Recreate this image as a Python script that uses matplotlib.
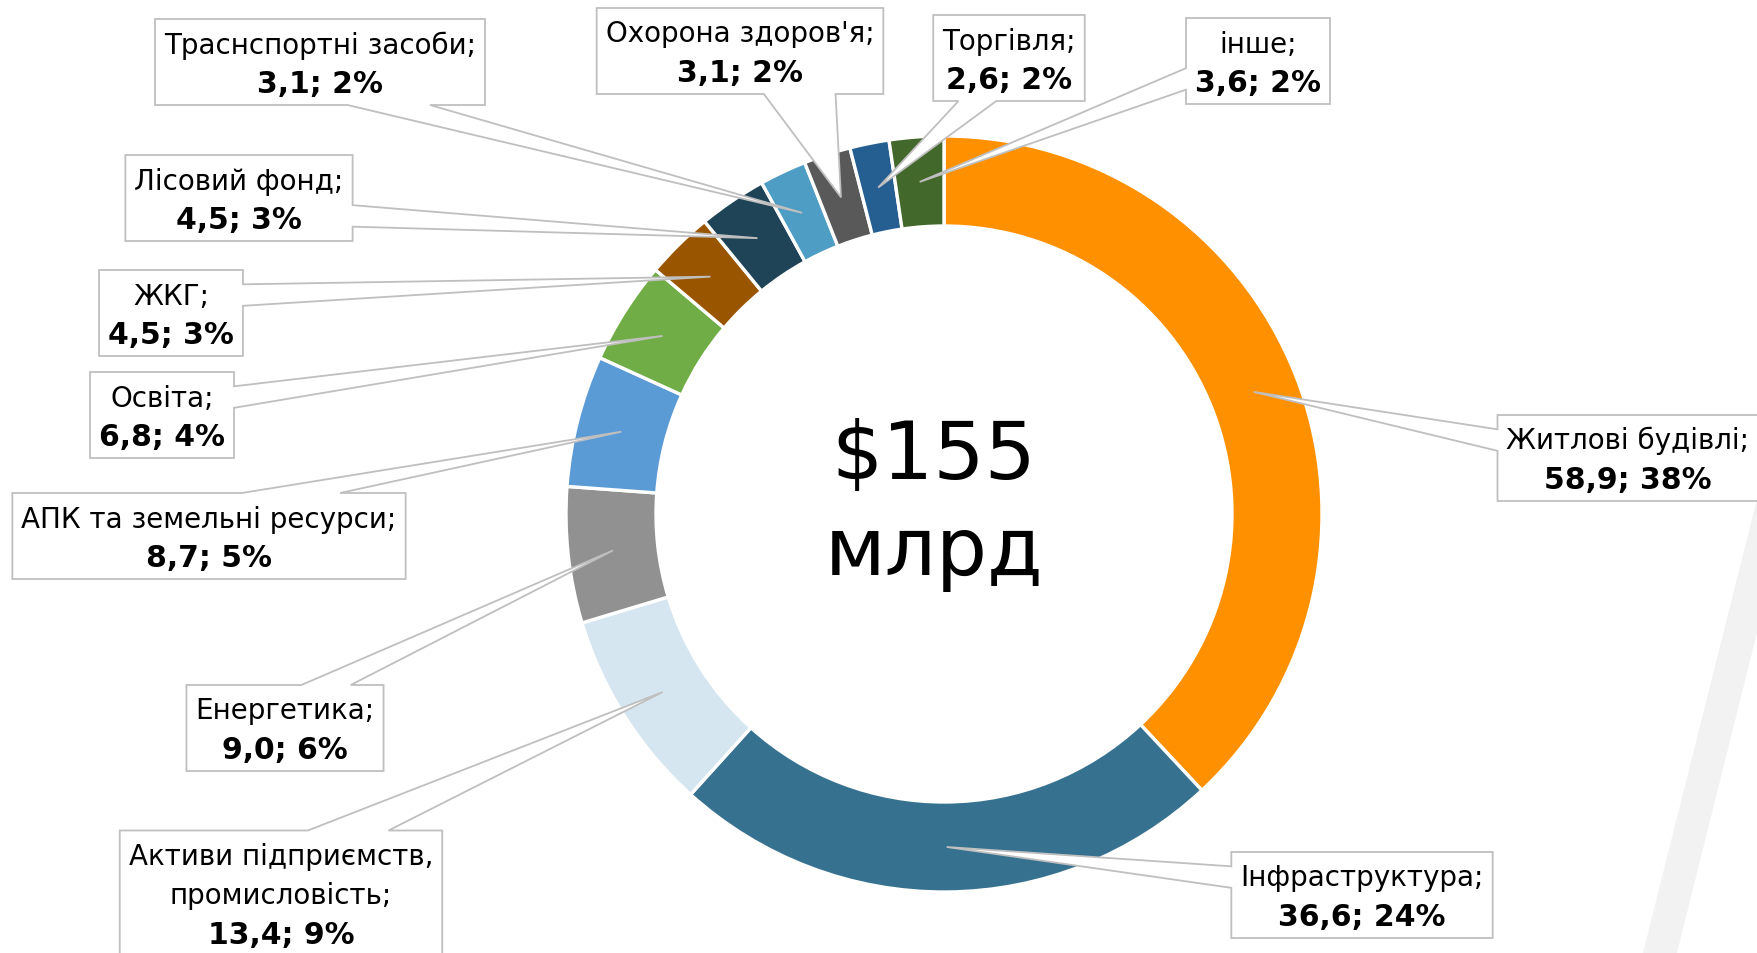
import numpy as np
import matplotlib.pyplot as plt
from matplotlib.patches import Polygon

# damage by sector, $ bn (clockwise from 12 o'clock)
sectors = ["Житлові будівлі", "Інфраструктура", "Активи підприємств,\nпромисловість",
           "Енергетика", "АПК та земельні ресурси", "Освіта", "ЖКГ", "Лісовий фонд",
           "Траснспортні засоби", "Охорона здоров'я", "Торгівля", "інше"]
values = [58.9, 36.6, 13.4, 9.0, 8.7, 6.8, 4.5, 4.5, 3.1, 3.1, 2.6, 3.6]
shares = [38, 24, 9, 6, 5, 4, 3, 3, 2, 2, 2, 2]

colors = ["#ff9100", "#36718f", "#d6e6f0", "#919191", "#5b9bd5", "#70ad47",
          "#995500", "#204457", "#4e9dc4", "#595959", "#255e91", "#43682b"]

# label box centres in pixels (x right, y down)
box_centers = [(1628, 459), (1362, 896), (281, 894), (285, 729), (209, 537),
               (162, 416), (171, 314), (239, 199), (320, 63), (740, 52),
               (1009, 59), (1258, 62)]

W, H = 1757, 954
CX, CY = 944, 515
R_OUT, R_IN = 378, 288
FS, FS_BOLD = 20, 21.5
LINE = 39
EDGE = "#bfbfbf"

fig = plt.figure(figsize=(W / 100, H / 100), dpi=100)
ax = fig.add_axes([0, 0, 1, 1])

ax.pie(values, colors=colors, startangle=90, counterclock=False,
       center=(CX, H - CY), radius=R_OUT,
       wedgeprops=dict(width=R_OUT - R_IN, edgecolor="white", linewidth=2.4))
ax.set_xlim(0, W)
ax.set_ylim(0, H)
ax.set_aspect("equal")
ax.axis("off")

# light diagonal stripe in the lower right corner
ax.add_patch(Polygon([(1643, 0), (1757, H - 500), (1757, H - 634), (1677, 0)],
                     closed=True, facecolor="#f2f2f2", edgecolor="none", zorder=0))

ax.text(934, H - 479, "$155", fontsize=58, ha="center", va="baseline", zorder=5)
ax.text(934, H - 575, "млрд", fontsize=58, ha="center", va="baseline", zorder=5)

fig.canvas.draw()
renderer = fig.canvas.get_renderer()

total = sum(values)
cum = np.cumsum([0] + values[:-1])
r_mid = (R_OUT + R_IN) / 2

for name, v, pct, c0, (bx, by) in zip(sectors, values, shares, cum, box_centers):
    lines = [(ln, "normal", FS) for ln in (name + ";").split("\n")]
    lines.append((f"{v:.1f}; {pct}%".replace(".", ","), "bold", FS_BOLD))
    n = len(lines)
    widths = []
    for i, (txt, weight, size) in enumerate(lines):
        yc = by + (i - (n - 1) / 2) * LINE
        t = ax.text(bx, H - yc - 0.36 * size * 100 / 72, txt, fontsize=size,
                    fontweight=weight, ha="center", va="baseline", zorder=6)
        widths.append(t.get_window_extent(renderer).width)
    bw = max(widths) + 18
    bh = n * LINE + 8
    x0, x1 = bx - bw / 2, bx + bw / 2
    y0, y1 = by - bh / 2, by + bh / 2

    # callout tip sits in the middle of the ring segment
    ang = np.deg2rad(360 * (c0 + v / 2) / total)
    tx, ty = CX + r_mid * np.sin(ang), CY - r_mid * np.cos(ang)

    dx, dy = tx - bx, ty - by
    if abs(dx) / bw > abs(dy) / bh:
        ya, yb = (y0 + bh * 2 / 12, y0 + bh * 5 / 12) if dy < 0 else \
                 (y0 + bh * 7 / 12, y0 + bh * 10 / 12)
        if dx > 0:
            pts = [(x0, y0), (x1, y0), (x1, ya), (tx, ty), (x1, yb), (x1, y1), (x0, y1)]
        else:
            pts = [(x0, y0), (x1, y0), (x1, y1), (x0, y1), (x0, yb), (tx, ty), (x0, ya)]
    else:
        xa, xb = (x0 + bw * 2 / 12, x0 + bw * 5 / 12) if dx < 0 else \
                 (x0 + bw * 7 / 12, x0 + bw * 10 / 12)
        if dy > 0:
            pts = [(x0, y0), (x1, y0), (x1, y1), (xb, y1), (tx, ty), (xa, y1), (x0, y1)]
        else:
            pts = [(x0, y0), (xa, y0), (tx, ty), (xb, y0), (x1, y0), (x1, y1), (x0, y1)]
    ax.add_patch(Polygon([(px, H - py) for px, py in pts], closed=True,
                         facecolor="white", edgecolor=EDGE, linewidth=1.3,
                         joinstyle="miter", zorder=4))

fig.savefig("out.png", dpi=100, facecolor="white")
